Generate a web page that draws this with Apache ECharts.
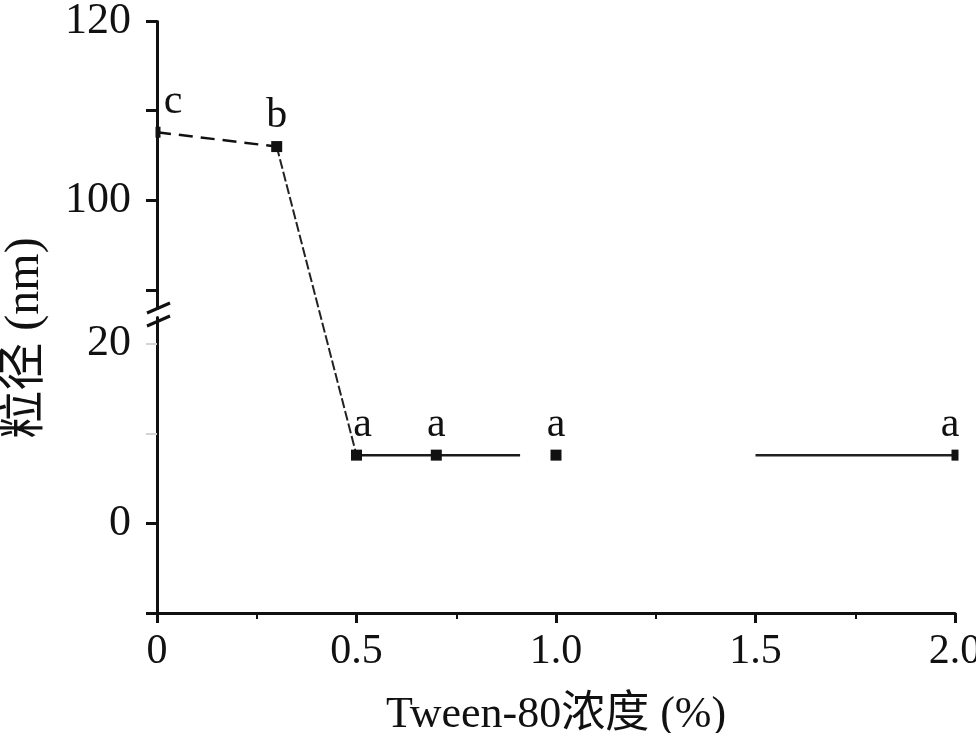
<!DOCTYPE html>
<html>
<head>
<meta charset="utf-8">
<script src="https://cdn.jsdelivr.net/npm/echarts@6/dist/echarts.min.js"></script>
<style>html,body{margin:0;padding:0;background:#fff}#c{width:976px;height:733px}</style>
</head>
<body>
<div id="c"></div>
<script>
// Data
const concX = [0, 0.3, 0.5, 0.7, 1.0, 2.0];        // Tween-80 concentration (%)
const sizeY = [107.6, 106.0, 7.6, 7.6, 7.6, 7.6];   // particle size (nm)
const letters = ['c', 'b', 'a', 'a', 'a', 'a'];
const midSegX = [0.5, 0.91];   // solid segment drawn in the original
const tailSegX = [1.5, 2.0];   // solid segment drawn in the original
const segY = 7.6;
const xTicks = ['0', '0.5', '1.0', '1.5', '2.0'];
const yLabelValues = [0, 20, 100, 120];
const yBlackTicks = [-10, 0, 90, 100, 110, 120];
const yGrayTicks = [10, 20];
const yBreak = [23, 88];

const FONT = '"Liberation Serif", "Times New Roman", "Noto Sans CJK SC", serif';
const INK = '#111';

const chart = echarts.init(document.getElementById('c'), null, {renderer: 'canvas'});

const pts = concX.map((x, i) => [x, sizeY[i]]);
const yBase = {
  type: 'value', min: -10, max: 120, interval: 10,
  breaks: [{start: yBreak[0], end: yBreak[1], gap: 1}],
  breakArea: {show: false},
  splitLine: {show: false}
};

const option = {
  animation: false,
  backgroundColor: '#fff',
  grid: {left: 157, right: 21, top: 21, bottom: 120, containLabel: false, outerBoundsMode: 'none'},
  xAxis: {
    type: 'value', min: 0, max: 2, interval: 0.5,
    name: 'Tween-80浓度 (%)', nameLocation: 'middle', nameGap: 80,
    nameTextStyle: {fontFamily: FONT, fontSize: 44, color: INK},
    axisLine: {onZero: false, lineStyle: {color: INK, width: 3}},
    axisTick: {length: 10, lineStyle: {color: INK, width: 3}},
    minorTick: {show: true, splitNumber: 2, length: 6, lineStyle: {color: INK, width: 2}},
    axisLabel: {fontFamily: FONT, fontSize: 42, color: INK, margin: 18,
      formatter: v => xTicks[Math.round(v / 0.5)]},
    splitLine: {show: false}
  },
  yAxis: [
    Object.assign({}, yBase, {
      axisLine: {show: true, onZero: false, lineStyle: {color: INK, width: 3}},
      axisTick: {show: true, length: 11, customValues: yBlackTicks, lineStyle: {color: INK, width: 3}},
      axisLabel: {fontFamily: FONT, fontSize: 44, color: INK, margin: 26, customValues: yLabelValues}
    }),
    Object.assign({}, yBase, {
      position: 'left',
      axisLine: {show: false, onZero: false},
      axisTick: {show: true, length: 11, customValues: yGrayTicks, lineStyle: {color: '#d4d4d4', width: 2}},
      axisLabel: {show: false}
    })
  ],
  graphic: [
    {type: 'text', x: 25, y: 338, rotation: Math.PI / 2,
      style: {text: '粒径 (nm)', fontFamily: FONT, fontSize: 48, fill: INK, align: 'center', verticalAlign: 'middle'}},
    {type: 'line', shape: {x1: 147, y1: 313, x2: 170, y2: 303}, style: {stroke: INK, lineWidth: 3}, z: 100},
    {type: 'line', shape: {x1: 147, y1: 326, x2: 170, y2: 316}, style: {stroke: INK, lineWidth: 3}, z: 100}
  ],
  series: [
    {type: 'line', data: pts.slice(0, 2), symbol: 'none', clip: false,
      lineStyle: {color: INK, width: 2.5, type: [14, 8]}},
    {type: 'line', data: pts.slice(1, 3), symbol: 'none', clip: false,
      lineStyle: {color: '#222', width: 2, type: [10, 3]}},
    {type: 'line', data: midSegX.map(x => [x, segY]), symbol: 'none',
      lineStyle: {color: '#1a1a1a', width: 2.5}},
    {type: 'line', data: tailSegX.map(x => [x, segY]), symbol: 'none',
      lineStyle: {color: '#222', width: 2.5}},
    {type: 'scatter', clip: false, z: 5,
      data: pts.map((p, i) => {
        const d = {value: p};
        if (i === 0) { d.symbolSize = [5, 11]; d.symbolOffset = [1, 0]; d.label = {offset: [15, 0]}; }
        if (i === 2) { d.label = {offset: [6, 0]}; }
        if (i === pts.length - 1) { d.symbolSize = [7, 11]; d.label = {offset: [-5, 0]}; }
        return d;
      }),
      symbol: 'rect', symbolSize: 11,
      itemStyle: {color: INK, opacity: 1},
      label: {show: true, position: 'top', distance: 4, fontFamily: FONT, fontSize: 42, color: INK, opacity: 1,
        formatter: p => letters[p.dataIndex]}
    }
  ]
};
chart.setOption(option);
</script>
</body>
</html>
